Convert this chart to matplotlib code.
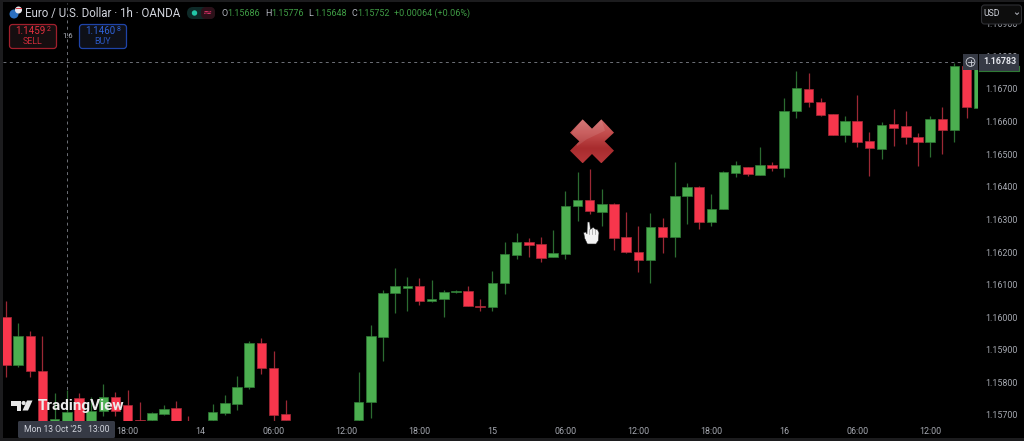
#!/usr/bin/env python3
import matplotlib
matplotlib.use('Agg')
import matplotlib.pyplot as plt
import numpy as np
from matplotlib.colors import LinearSegmentedColormap
from matplotlib.patches import Circle, FancyBboxPatch, Polygon, Rectangle

plt.rcParams['font.family'] = ['Roboto', 'DejaVu Sans']

# hourly candles. the ones below the visible range are rough guesses
opens = [1.16001, 1.15854, 1.15942, 1.15835, 1.15660, 1.15668, 1.15752, 1.15670, 1.15713, 1.15755,
         1.15731, 1.15685, 1.15685, 1.15703, 1.15722, 1.15670, 1.15650, 1.15685, 1.15706, 1.15734,
         1.15786, 1.15921, 1.15844, 1.15703, 1.15660, 1.15650, 1.15640, 1.15630, 1.15640, 1.15685,
         1.15740, 1.15939, 1.16074, 1.16090, 1.16096, 1.16050, 1.16056, 1.16077, 1.16081, 1.16035,
         1.16031, 1.16105, 1.16191, 1.16231, 1.16225, 1.16185, 1.16194, 1.16341, 1.16360, 1.16323,
         1.16347, 1.16246, 1.16200, 1.16176, 1.16277, 1.16246, 1.16372, 1.16400, 1.16292, 1.16332,
         1.16442, 1.16461, 1.16436, 1.16467, 1.16458, 1.16633, 1.16700, 1.16660, 1.16623, 1.16559,
         1.16602, 1.16541, 1.16516, 1.16593, 1.16587, 1.16553, 1.16537, 1.16608, 1.16574, 1.16771,
         1.16642]
highs = [1.16050, 1.15982, 1.15958, 1.15942, 1.15768, 1.15777, 1.15768, 1.15755, 1.15795, 1.15771,
         1.15777, 1.15740, 1.15709, 1.15731, 1.15743, 1.15697, 1.15670, 1.15734, 1.15762, 1.15820,
         1.15927, 1.15936, 1.15897, 1.15746, 1.15670, 1.15660, 1.15650, 1.15650, 1.15660, 1.15832,
         1.15976, 1.16084, 1.16151, 1.16123, 1.16120, 1.16114, 1.16084, 1.16084, 1.16096, 1.16056,
         1.16142, 1.16231, 1.16258, 1.16243, 1.16246, 1.16268, 1.16387, 1.16445, 1.16455, 1.16393,
         1.16350, 1.16323, 1.16280, 1.16320, 1.16304, 1.16476, 1.16412, 1.16403, 1.16378, 1.16449,
         1.16479, 1.16461, 1.16522, 1.16476, 1.16672, 1.16755, 1.16749, 1.16672, 1.16623, 1.16617,
         1.16682, 1.16568, 1.16599, 1.16639, 1.16633, 1.16565, 1.16617, 1.16645, 1.16780, 1.16780,
         1.16783]
lows = [1.15817, 1.15847, 1.15817, 1.15640, 1.15650, 1.15655, 1.15660, 1.15660, 1.15697, 1.15697,
        1.15670, 1.15672, 1.15680, 1.15700, 1.15675, 1.15630, 1.15630, 1.15670, 1.15700, 1.15716,
        1.15780, 1.15826, 1.15681, 1.15685, 1.15630, 1.15620, 1.15610, 1.15610, 1.15620, 1.15670,
        1.15691, 1.15866, 1.16013, 1.16019, 1.16038, 1.16047, 1.16001, 1.16074, 1.16035, 1.16019,
        1.16019, 1.16071, 1.16179, 1.16185, 1.16169, 1.16185, 1.16179, 1.16295, 1.16317, 1.16280,
        1.16206, 1.16197, 1.16139, 1.16105, 1.16197, 1.16185, 1.16286, 1.16271, 1.16280, 1.16332,
        1.16430, 1.16433, 1.16436, 1.16449, 1.16430, 1.16611, 1.16645, 1.16617, 1.16559, 1.16537,
        1.16522, 1.16433, 1.16485, 1.16525, 1.16531, 1.16464, 1.16491, 1.16501, 1.16537, 1.16611,
        1.16640]
closes = [1.15854, 1.15942, 1.15835, 1.15650, 1.15688, 1.15709, 1.15680, 1.15713, 1.15755, 1.15713,
          1.15681, 1.15681, 1.15706, 1.15719, 1.15681, 1.15650, 1.15640, 1.15709, 1.15737, 1.15786,
          1.15921, 1.15844, 1.15700, 1.15685, 1.15650, 1.15640, 1.15630, 1.15640, 1.15650, 1.15740,
          1.15942, 1.16074, 1.16096, 1.16096, 1.16050, 1.16056, 1.16077, 1.16081, 1.16035, 1.16031,
          1.16105, 1.16194, 1.16231, 1.16222, 1.16182, 1.16197, 1.16341, 1.16360, 1.16326, 1.16347,
          1.16243, 1.16200, 1.16176, 1.16277, 1.16246, 1.16372, 1.16400, 1.16292, 1.16332, 1.16445,
          1.16467, 1.16439, 1.16467, 1.16458, 1.16633, 1.16703, 1.16660, 1.16620, 1.16559, 1.16602,
          1.16537, 1.16519, 1.16590, 1.16580, 1.16553, 1.16537, 1.16608, 1.16574, 1.16771, 1.16645,
          1.16783]

price_ticks = [1.157, 1.158, 1.159, 1.160, 1.161, 1.162, 1.163, 1.164, 1.165, 1.166, 1.167, 1.168, 1.169]
time_ticks = [10, 16, 22, 28, 34, 40, 46, 52, 58, 64, 70, 76]
time_labels = ['18:00', '14', '06:00', '12:00', '18:00', '15', '06:00', '12:00', '18:00', '16', '06:00', '12:00']
last_price = 1.16783
crosshair_bar = 5

ohlc_pairs = [('O', '1.15686', 221), ('H', '1.15776', 265), ('L', '1.15648', 308), ('C', '1.15752', 351)]

UP = '#4caf50'
DOWN = '#f7364c'
UP_WICK = '#2b6b30'
DOWN_WICK = '#9c2835'
TEXT = '#d1d4dc'
AXIS_TEXT = '#b2b5be'

W, H = 1024, 441
fig = plt.figure(figsize=(W / 100, H / 100), dpi=100, facecolor='black')

# candle axes, pixel box 3..978 / 3..421
ax = fig.add_axes([3 / W, (H - 421) / H, 975 / W, 418 / H], facecolor='black')
ax.set_xlim((3 - 6) / 12.16, (978 - 6) / 12.16)
ax.set_ylim(1.16700 - (421 - 89) / 32600, 1.16700 + (89 - 3) / 32600)

x = np.arange(len(opens))
o, h, l, c = map(np.array, (opens, highs, lows, closes))
up = c >= o
ax.vlines(x[up], l[up], h[up], color=UP_WICK, lw=0.9, zorder=2)
ax.vlines(x[~up], l[~up], h[~up], color=DOWN_WICK, lw=0.9, zorder=2)
ax.bar(x[up], (c - o)[up], bottom=o[up], width=0.78, color=UP, edgecolor='#2f7a35', lw=0.5, zorder=3)
ax.bar(x[~up], (o - c)[~up], bottom=c[~up], width=0.78, color=DOWN, edgecolor='#a82a38', lw=0.5, zorder=3)

# crosshair and last price line
ax.axvline(crosshair_bar, color='#6e7178', lw=0.7, ls=(0, (3, 3.5)), zorder=1)
ax.axhline(last_price, color='#6e7178', lw=0.7, ls=(0, (3, 3.5)), zorder=1)

ax.set_xticks(time_ticks)
ax.set_xticklabels(time_labels)
ax.yaxis.tick_right()
ax.set_yticks(price_ticks)
ax.set_yticklabels(['%.5f' % p for p in price_ticks])
ax.tick_params(axis='both', length=0, labelsize=6.4, labelcolor='#a6a9b1')
ax.tick_params(axis='y', pad=5)
ax.tick_params(axis='x', pad=4)
for spine in ax.spines.values():
    spine.set_visible(False)

# everything that is not data goes on an overlay in pixel coordinates
ui = fig.add_axes([0, 0, 1, 1], facecolor='none')
ui.set_xlim(0, W)
ui.set_ylim(H, 0)
ui.axis('off')

ui.add_patch(Rectangle((0, 0), 3, H, color='#1c1c1e', lw=0))
ui.add_patch(Rectangle((0, 0), W, 2, color='#1c1c1e', lw=0))
ui.add_patch(Rectangle((0, 438), W, 3, color='#1c1c1e', lw=0))

# header
ui.add_patch(Circle((14, 14), 4.5, color='#2a6fc0', lw=0))
ui.add_patch(Circle((18.5, 10), 3.5, color='#e8e8ee', lw=0))
ui.add_patch(Rectangle((16, 8), 5.5, 1.2, color='#d8404a', lw=0))
ui.text(25, 13.5, 'Euro / U.S. Dollar · 1h · OANDA', color=TEXT, fontsize=8.3, va='center')
ui.add_patch(FancyBboxPatch((187, 7), 28, 12, boxstyle='round,pad=0,rounding_size=6', fc='#0e2a28', ec='none'))
ui.add_patch(FancyBboxPatch((201, 7), 14, 12, boxstyle='round,pad=0,rounding_size=5', fc='#2c1019', ec='none'))
ui.add_patch(Circle((194.5, 13), 2.7, color='#22c7a8', lw=0))
ui.text(207, 13, '≈', color='#e8336d', fontsize=8, ha='center', va='center', family=['DejaVu Sans'])
for name, value, px in ohlc_pairs:
    ui.text(px, 13.5, name, color=AXIS_TEXT, fontsize=6.5, va='center')
    ui.text(px + 6, 13.5, value, color='#3f9c45', fontsize=6.5, va='center')
ui.text(394, 13.5, '+0.00064 (+0.06%)', color='#3f9c45', fontsize=6.5, va='center')

# sell / buy boxes
ui.add_patch(FancyBboxPatch((9.5, 24.5), 47, 24, boxstyle='round,pad=0,rounding_size=3', fc='#160e10', ec='#a01f2c', lw=0.9))
ui.text(30.5, 31, '1.1459', color='#e5303f', fontsize=7, ha='center', va='center')
ui.text(48.5, 29.5, '2', color='#e5303f', fontsize=5, ha='center', va='center')
ui.text(33, 41, 'SELL', color='#c92a38', fontsize=6.4, ha='center', va='center')
ui.text(68, 36, '1.6', color=AXIS_TEXT, fontsize=5.6, ha='center', va='center')
ui.add_patch(FancyBboxPatch((79.5, 24.5), 47, 24, boxstyle='round,pad=0,rounding_size=3', fc='#0e1018', ec='#1f44a8', lw=0.9))
ui.text(100.5, 31, '1.1460', color='#2f62d8', fontsize=7, ha='center', va='center')
ui.text(118.5, 29.5, '8', color='#2f62d8', fontsize=5, ha='center', va='center')
ui.text(102.5, 41, 'BUY', color='#2a56c0', fontsize=6.4, ha='center', va='center')

# currency button
ui.add_patch(FancyBboxPatch((981.5, 5), 40, 19, boxstyle='round,pad=0,rounding_size=3', fc='#0d0d0d', ec='#2e2f33', lw=0.8))
ui.text(992, 14, 'USD', color=TEXT, fontsize=6.2, ha='center', va='center')
ui.plot([1015.5, 1017, 1018.5], [13, 14.5, 13], color=AXIS_TEXT, lw=0.7)

# last price label and plus button
ui.add_patch(Rectangle((979, 54), 40, 17, fc='#363a45', ec='none'))
ui.plot([979, 1019, 1019], [71, 71, 66], color='#2f7a35', lw=0.8)
ui.text(999.5, 62, '1.16783', color='#e6e8ee', fontsize=6.4, fontweight='bold', ha='center', va='center')
ui.add_patch(Rectangle((963, 54), 15, 16, fc='#363a45', ec='none'))
ui.add_patch(Circle((970.5, 62), 4.4, fc='none', ec=TEXT, lw=0.6))
ui.plot([968, 973], [62, 62], color=TEXT, lw=0.6)
ui.plot([970.5, 970.5], [59.5, 64.5], color=TEXT, lw=0.6)

# crosshair time label
ui.add_patch(FancyBboxPatch((18, 421), 97, 17, boxstyle='round,pad=0,rounding_size=1.5', fc='#363a45', ec='none'))
ui.text(66.5, 430, "Mon 13 Oct '25   13:00", color=TEXT, fontsize=6.2, ha='center', va='center')

# watermark
ui.add_patch(Polygon([(11, 400.5), (21, 400.5), (21, 410.5), (16.5, 410.5), (16.5, 405.5), (11, 405.5)], fc='#e6e6e6', ec='none'))
ui.add_patch(Circle((23.6, 403), 2.1, color='#e6e6e6', lw=0))
ui.add_patch(Polygon([(27, 400.5), (32.5, 400.5), (28, 410.5), (22.5, 410.5)], fc='#e6e6e6', ec='none'))
ui.text(38, 406, 'TradingView', color='#ececec', fontsize=11, fontweight='bold', va='center')

# red cross sticker
cross_pts = np.array([(278, 28), (306, 56), (334, 28), (372, 68), (344, 94), (372, 122), (334, 160),
                      (306, 132), (278, 160), (240, 122), (268, 94), (240, 68)]) / 3 + (490, 110)
cross = Polygon(cross_pts, fc='none', ec='none')
ui.add_patch(cross)
cmap = LinearSegmentedColormap.from_list('cross', ['#cf6a6a', '#c24c4c', '#a82c2e', '#b8373a'])
grad = ui.imshow(np.linspace(0, 1, 64)[:, None], cmap=cmap, extent=(568, 616, 163, 119), aspect='auto', zorder=4)
grad.set_clip_path(cross)
gloss_pts = np.array([(245, 68), (278, 28), (334, 28), (345, 62), (290, 88), (262, 108)]) / 3 + (490, 110)
gloss = Polygon(gloss_pts, fc='white', ec='none', alpha=0.1, zorder=5)
ui.add_patch(gloss)
gloss.set_clip_path(cross)
ui.set_xlim(0, W)
ui.set_ylim(H, 0)

# hand cursor
hand = np.array([(292, 336), (299, 336), (301, 358), (310, 352), (316, 358), (322, 358), (327, 368), (325, 392),
                 (318, 402), (292, 402), (284, 385), (281, 368), (288, 366), (291, 372)]) / 3 + (490, 110)
ui.add_patch(Polygon(hand, fc='#f4f4f4', ec='#222222', lw=0.4, zorder=5))
for gx in (588.5, 591.5, 594.5):
    ui.plot([gx, gx], [229, 234], color='#9a9a9a', lw=0.5, zorder=6)

fig.savefig('out.png', dpi=100, facecolor='black')
